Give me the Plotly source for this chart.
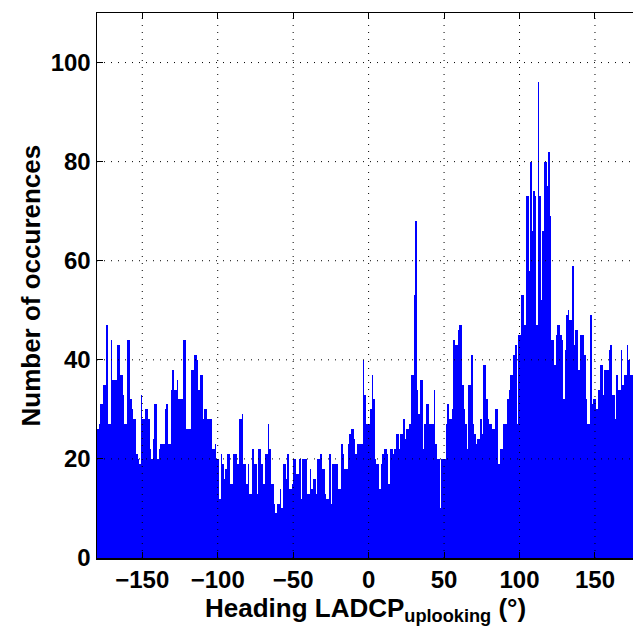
import numpy as np
import plotly.graph_objects as go

# Histogram of heading, 1-degree bins; left edge of first visible bin and counts
first_bin_left = -180
counts = [
    # -180 .. -122
    26, 27, 31, 31, 35, 35, 47, 27, 27, 44, 36, 36, 36, 43, 43, 37, 37, 33, 27, 27,
    44, 44, 32, 30, 28, 28, 21, 20, 19, 33, 28, 28, 30, 30, 28, 22, 20, 24, 31, 31,
    20, 22, 23, 23, 23, 30, 31, 23, 23, 34, 38, 34, 34, 36, 32, 32, 32, 44, 44,
    # -121 .. -62
    26, 26, 26, 38, 38, 41, 41, 40, 34, 37, 37, 28, 30, 30, 28, 28, 28, 22, 22, 23,
    20, 20, 12, 21, 19, 16, 18, 21, 21, 15, 15, 21, 21, 21, 19, 28, 28, 29, 19, 19,
    15, 19, 13, 13, 22, 19, 19, 13, 22, 22, 19, 15, 21, 21, 27, 22, 15, 15, 11, 9,
    # -61 .. -5
    11, 11, 14, 10, 19, 19, 16, 21, 14, 14, 15, 20, 20, 17, 17, 20, 12, 20, 20, 20,
    13, 13, 18, 14, 16, 16, 13, 20, 20, 21, 18, 18, 13, 12, 12, 21, 11, 19, 19, 19,
    19, 14, 14, 23, 21, 18, 18, 23, 25, 26, 26, 24, 21, 23, 23, 23, 23,
    # -4 .. 55
    40, 33, 27, 27, 27, 30, 37, 32, 20, 19, 19, 14, 19, 21, 22, 22, 21, 15, 22, 22,
    21, 22, 25, 25, 22, 25, 25, 28, 24, 26, 26, 27, 37, 37, 53, 68, 34, 29, 36, 36,
    22, 27, 31, 31, 27, 27, 27, 34, 23, 20, 20, 10, 20, 20, 20, 27, 31, 28, 28, 30,
    # 56 .. 98
    44, 43, 43, 46, 47, 47, 35, 30, 27, 22, 35, 35, 41, 27, 25, 23, 24, 24, 28, 25,
    39, 39, 32, 28, 27, 27, 26, 26, 30, 30, 19, 22, 22, 27, 27, 27, 32, 34, 37, 37,
    41, 43, 27,
    # 99 .. 120
    45, 45, 53, 53, 47, 73, 73, 58, 80, 66, 74, 73, 47, 96, 73, 52, 66, 80, 80, 75,
    82, 69,
    # 121 .. 175
    44, 44, 39, 45, 47, 47, 45, 44, 32, 42, 49, 50, 48, 48, 59, 43, 46, 46, 38, 45,
    45, 45, 41, 32, 27, 27, 49, 31, 32, 32, 30, 34, 39, 39, 33, 38, 38, 38, 42, 43,
    33, 33, 28, 37, 34, 34, 42, 35, 37, 37, 43, 40, 37, 37, 37,
]

x_ticks = [-150, -100, -50, 0, 50, 100, 150]
y_ticks = [0, 20, 40, 60, 80, 100]
x_range = [-180, 175.2]
y_range = [0, 110]
x_title = "<b>Heading LADCP<sub>uplooking</sub> (°)</b>"
y_title = "<b>Number of occurences</b>"

bin_left = first_bin_left + np.arange(len(counts))
bin_center = bin_left + 0.5

fig = go.Figure()
fig.add_trace(go.Bar(
    x=bin_center, y=counts, width=1.0,
    marker=dict(color="#0000FF", line=dict(width=0)),
    hoverinfo="skip",
))

# dotted grid drawn above the bars (as in the MATLAB figure)
grid_style = dict(color="#000000", width=1, dash="1px,6px")
for xv in x_ticks:
    fig.add_shape(type="line", xref="x", yref="y", x0=xv, x1=xv,
                  y0=y_range[0], y1=y_range[1], line=grid_style, layer="above")
for yv in y_ticks[1:]:
    fig.add_shape(type="line", xref="x", yref="y", x0=x_range[0], x1=x_range[1],
                  y0=yv, y1=yv, line=grid_style, layer="above")

font_family = "Liberation Sans, Arial, Helvetica, sans-serif"

# axis titles as annotations for precise placement
fig.add_annotation(text=x_title, xref="paper", yref="paper", x=0.5, y=-0.06,
                   xanchor="center", yanchor="top", showarrow=False,
                   font=dict(size=26, family=font_family, color="black"))
fig.add_annotation(text=y_title, xref="paper", yref="paper", x=-0.125, y=0.5,
                   xanchor="center", yanchor="middle", textangle=-90, showarrow=False,
                   font=dict(size=26, family=font_family, color="black"))

fig.update_layout(
    width=633, height=631,
    margin=dict(l=97, r=0, t=13, b=73, autoexpand=False),
    paper_bgcolor="white", plot_bgcolor="white",
    bargap=0, showlegend=False,
    font=dict(family=font_family, size=24, color="black"),
    xaxis=dict(
        range=x_range, tickvals=x_ticks,
        ticktext=[("\u2212" + str(-v)) if v < 0 else str(v) for v in x_ticks],
        ticks="inside", ticklen=6, tickwidth=1, tickcolor="black",
        showline=True, linecolor="black", linewidth=1.5, mirror="ticks",
        showgrid=False, zeroline=False, automargin=False,
        tickfont=dict(size=24, family=font_family, weight="bold"),
    ),
    yaxis=dict(
        range=y_range, tickvals=y_ticks,
        ticks="inside", ticklen=6, tickwidth=1, tickcolor="black",
        showline=True, linecolor="black", linewidth=1.5, mirror=False,
        showgrid=False, zeroline=False, automargin=False,
        tickfont=dict(size=24, family=font_family, weight="bold"),
    ),
)

fig.write_html(
    "out.html",
    config={"displayModeBar": False, "staticPlot": True},
    post_script="document.body.style.margin='0';document.body.style.overflow='hidden';",
)
